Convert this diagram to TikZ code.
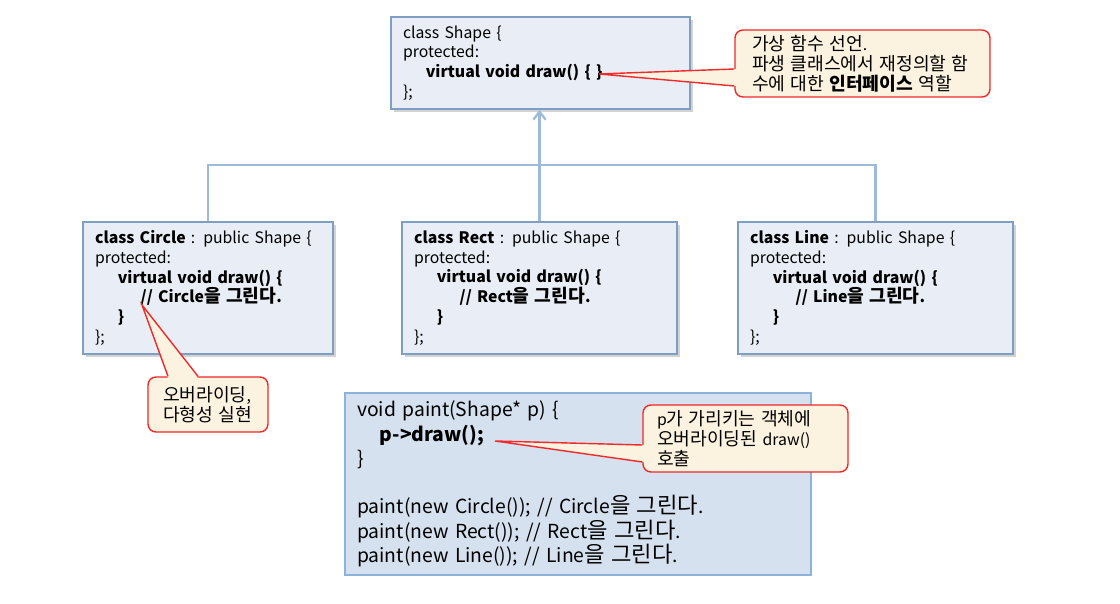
\documentclass[tikz,border=0pt]{standalone}
\usepackage{fontspec}
\setmainfont{Noto Sans CJK KR}
\newfontfamily\krfont{Noto Sans CJK KR}[Scale=1.15]
\usetikzlibrary{calc,shadows,arrows.meta,positioning}
\usepackage{xcolor}

% Hangul set a little larger than Latin
\XeTeXinterchartokenstate=1
\newXeTeXintercharclass\krclass
\count255="AC00
\loop
  \XeTeXcharclass\count255=\krclass
  \ifnum\count255<"D7A3 \advance\count255 by 1
\repeat
\XeTeXinterchartoks 0 \krclass = {\begingroup\krfont}
\XeTeXinterchartoks 4095 \krclass = {\begingroup\krfont}
\XeTeXinterchartoks \krclass 0 = {\endgroup}
\XeTeXinterchartoks \krclass 4095 = {\endgroup}

\definecolor{boxfill}{HTML}{E9EEF6}
\definecolor{boxline}{HTML}{7E9EC3}
\definecolor{paintfill}{HTML}{D5E1EE}
\definecolor{paintline}{HTML}{8DB2DC}
\definecolor{notefill}{HTML}{FBF2DF}
\definecolor{notered}{HTML}{EE2A2A}
\definecolor{linkline}{HTML}{9DBBD9}

\tikzset{
  classbox/.style={draw=boxline, fill=boxfill, line width=1pt, align=left,
    inner xsep=0.24cm, inner ysep=0pt,
    drop shadow={shadow xshift=1.6pt, shadow yshift=-1.6pt, opacity=0.35},
    font=\fontsize{9}{11.3}\selectfont},
  paintbox/.style={draw=paintline, fill=paintfill, line width=1pt, align=left,
    inner xsep=0.24cm, inner ysep=0pt,
    font=\fontsize{11}{13.8}\selectfont},
  notebox/.style={draw=notered, fill=notefill, line width=0.8pt, rounded corners=4.5pt,
    align=left, inner ysep=0pt, font=\fontsize{9}{11.3}\selectfont},
  link/.style={draw=linkline, line width=1.3pt},
  wedge/.style={draw=notered, line width=0.8pt},
}

\begin{document}
\begin{tikzpicture}[x=0.02cm, y=-0.02cm]

\useasboundingbox (0,0) rectangle (1120,604);

% Base class
\node[classbox, text width=5.5cm, minimum height=1.84cm] (shapecls) at (540.5,63)
  {class Shape \{\\
   protected:\\
   \hspace*{13pt}\textbf{virtual void draw() \{ \}}\\
   \};};

% Derived classes
\node[classbox, text width=4.52cm, minimum height=2.64cm] (circlecls) at (208,288)
  {\textbf{class Circle} : public Shape \{\\
   protected:\\
   \hspace*{13pt}\textbf{virtual void draw() \{}\\
   \hspace*{26pt}\textbf{// Circle을 그린다.}\\
   \hspace*{13pt}\textbf{\}}\\
   \};};

\node[classbox, text width=5.02cm, minimum height=2.64cm] (rectcls) at (539.5,288)
  {\textbf{class Rect} : public Shape \{\\
   protected:\\
   \hspace*{13pt}\textbf{virtual void draw() \{}\\
   \hspace*{26pt}\textbf{// Rect을 그린다.}\\
   \hspace*{13pt}\textbf{\}}\\
   \};};

\node[classbox, text width=5.02cm, minimum height=2.64cm] (linecls) at (875.5,288)
  {\textbf{class Line} : public Shape \{\\
   protected:\\
   \hspace*{13pt}\textbf{virtual void draw() \{}\\
   \hspace*{26pt}\textbf{// Line을 그린다.}\\
   \hspace*{13pt}\textbf{\}}\\
   \};};

% Inheritance lines
\coordinate (bus) at (540,165);
\draw[link] (circlecls.north) |- (bus) -| (linecls.north);
\draw[link, -{Straight Barb[length=4.5pt, width=7pt]}] (rectcls.north) -- (rectcls.north |- shapecls.south);

% paint() box
\node[paintbox, text width=8.84cm, minimum height=3.64cm] (paintcode) at (578,484)
  {void paint(Shape* p) \{\\
   \hspace*{13pt}\textbf{p->draw();}\\
   \}\\
   \mbox{}\\
   paint(new Circle()); // Circle을 그린다.\\
   paint(new Rect()); // Rect을 그린다.\\
   paint(new Line()); // Line을 그린다.};

% Callouts
\node[notebox, inner xsep=0.34cm, text width=4.42cm, minimum height=1.34cm] (note1) at (862.5,63.5)
  {가상 함수 선언.\\
   파생 클래스에서 재정의할 함\\
   수에 대한 \textbf{인터페이스} 역할};
\coordinate (tip1) at (599,74);
\fill[notefill] (tip1) -- ($(note1.west)+(2,5.5)$) -- ($(note1.west)+(2,22.5)$) -- cycle;
\draw[wedge] ($(note1.west)+(0,5.5)$) -- (tip1) -- ($(note1.west)+(0,22.5)$);

\node[notebox, inner xsep=0.3cm, text width=1.8cm, minimum height=1.1cm] (note2) at (208,404.5)
  {오버라이딩,\\
   다형성 실현};
\coordinate (tip2) at (142,305);
\fill[notefill] (tip2) -- ($(note2.north)+(-40,2)$) -- ($(note2.north)+(-10,2)$) -- cycle;
\draw[wedge] ($(note2.north)+(-40,0)$) -- (tip2) -- ($(note2.north)+(-10,0)$);

\node[notebox, inner xsep=0.28cm, text width=3.54cm, minimum height=1.34cm] (note3) at (745.5,438.5)
  {p가 가리키는 객체에\\
   오버라이딩된 draw()\\
   호출};
\coordinate (tip3) at (495,441);
\fill[notefill] (tip3) -- ($(note3.west)+(2,6.5)$) -- ($(note3.west)+(2,23.5)$) -- cycle;
\draw[wedge] ($(note3.west)+(0,6.5)$) -- (tip3) -- ($(note3.west)+(0,23.5)$);

\end{tikzpicture}
\end{document}
